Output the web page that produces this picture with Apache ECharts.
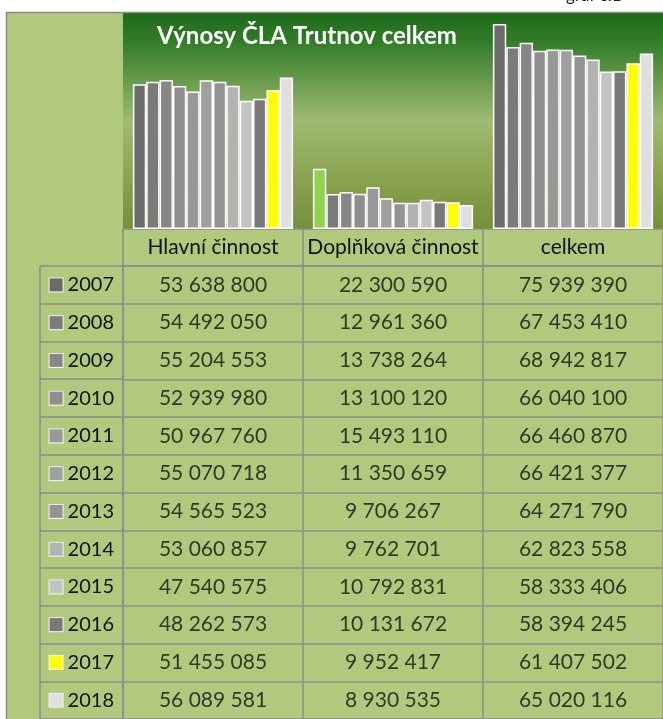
<!DOCTYPE html>
<html>
<head>
<meta charset="utf-8">
<script src="https://cdn.jsdelivr.net/npm/echarts@6/dist/echarts.min.js"></script>
<style>
  html, body { margin: 0; padding: 0; background: #fff; }
  #chart { width: 663px; height: 719px; }
</style>
</head>
<body>
<div id="chart"></div>
<script>
// data
const years = ['2007', '2008', '2009', '2010', '2011', '2012', '2013', '2014', '2015', '2016', '2017', '2018'];
const categories = ['Hlavní činnost', 'Doplňková činnost', 'celkem'];
const hlavni = [53638800, 54492050, 55204553, 52939980, 50967760, 55070718, 54565523, 53060857, 47540575, 48262573, 51455085, 56089581];
const doplnkova = [22300590, 12961360, 13738264, 13100120, 15493110, 11350659, 9706267, 9762701, 10792831, 10131672, 9952417, 8930535];
const celkem = [75939390, 67453410, 68942817, 66040100, 66460870, 66421377, 64271790, 62823558, 58333406, 58394245, 61407502, 65020116];

// one colour per year, the first "Doplňková" bar is highlighted green
const yearColors = ['#6b6b6b', '#7b7b7b', '#878787', '#8e8e8e', '#989898', '#a0a0a0', '#939393', '#b3b3b3', '#c3c3c3', '#787878', '#ffff00', '#dfdfdf'];
const highlightColor = '#92d050';

const lineColor = '#8c8c8c';
const panelGreen = '#b0c97c';
const font = 'Lato, "Open Sans", sans-serif';

const fmt = v => String(v).replace(/\B(?=(\d{3})+(?!\d))/g, ' ');

const chart = echarts.init(document.getElementById('chart'));

// bars, one series per year
const barSeries = years.map((y, i) => ({
  name: y,
  type: 'bar',
  xAxisIndex: 0,
  yAxisIndex: 0,
  barGap: '0%',
  barCategoryGap: '11%',
  itemStyle: { color: yearColors[i], borderColor: '#ffffff', borderWidth: 1.5 },
  data: [
    hlavni[i],
    i === 0 ? { value: doplnkova[i], itemStyle: { color: highlightColor } } : doplnkova[i],
    celkem[i]
  ]
}));

// table values
const tableData = [];
years.forEach((y, i) => {
  tableData.push([0, i, hlavni[i]]);
  tableData.push([1, i, doplnkova[i]]);
  tableData.push([2, i, celkem[i]]);
});

const rich = {
  yr: { fontSize: 20, fontFamily: font, color: '#111' },
  g: { width: 5 }
};
yearColors.forEach((c, i) => {
  rich['s' + i] = { width: 13, height: 13, backgroundColor: c, borderColor: '#f4f4f4', borderWidth: 1 };
});

const option = {
  animation: false,
  backgroundColor: '#ffffff',
  graphic: [
    { type: 'rect', z: -10, shape: { x: 6, y: 12, width: 660, height: 710 }, style: { fill: panelGreen } },
    { type: 'line', z: 10, shape: { x1: 6.5, y1: 12, x2: 6.5, y2: 719 }, style: { stroke: lineColor, lineWidth: 1.5 } },
    { type: 'line', z: 10, shape: { x1: 6, y1: 12.5, x2: 663, y2: 12.5 }, style: { stroke: lineColor, lineWidth: 1.5 } },
    {
      type: 'text', z: 20, x: 307, y: 36,
      style: { text: 'Výnosy ČLA Trutnov celkem', fill: '#ffffff', font: 'bold 24px ' + font, textAlign: 'center', textVerticalAlign: 'middle' }
    },
    {
      type: 'text', z: 20, x: 566, y: 4,
      style: { text: 'graf č.1', fill: '#222', font: '17px ' + font, textAlign: 'left', textVerticalAlign: 'bottom' }
    }
  ],
  grid: [
    {
      left: 123, top: 13, width: 546, height: 216,
      show: true, borderWidth: 0,
      backgroundColor: new echarts.graphic.LinearGradient(0, 0, 0, 1, [
        { offset: 0, color: '#1d6b1a' },
        { offset: 0.12, color: '#2f7a27' },
        { offset: 0.5, color: '#9fbb70' },
        { offset: 0.8, color: '#86a04c' },
        { offset: 1, color: '#74903a' }
      ])
    },
    { left: 123, top: 266, width: 546, height: 12 * 38.3 }
  ],
  xAxis: [
    {
      gridIndex: 0,
      type: 'category',
      data: categories,
      position: 'bottom',
      axisLine: { lineStyle: { color: lineColor, width: 1.5 } },
      axisTick: { show: true, alignWithLabel: false, length: 37, lineStyle: { color: lineColor, width: 1.5 } },
      axisLabel: { margin: 0, lineHeight: 37, height: 37, fontSize: 21, fontFamily: font, color: '#111', interval: 0 }
    },
    {
      gridIndex: 1,
      type: 'category',
      data: categories,
      position: 'top',
      axisLine: { lineStyle: { color: lineColor, width: 1.5 } },
      axisTick: { show: false },
      axisLabel: { show: false },
      splitLine: { show: true, interval: 0, lineStyle: { color: lineColor, width: 1.5 } }
    }
  ],
  yAxis: [
    { gridIndex: 0, type: 'value', min: 0, max: 80000000, show: false },
    {
      gridIndex: 1,
      type: 'category',
      data: years,
      inverse: true,
      axisLine: { lineStyle: { color: lineColor, width: 1.5 } },
      axisTick: { show: true, alignWithLabel: false, interval: 0, length: 83, lineStyle: { color: lineColor, width: 1.5 } },
      splitLine: { show: true, interval: 0, lineStyle: { color: lineColor, width: 1.5 } },
      axisLabel: {
        margin: 9,
        interval: 0,
        formatter: (v, i) => '{s' + i + '|}{g|}{yr|' + v + '}',
        rich: rich
      }
    },
    {
      gridIndex: 1,
      type: 'category',
      data: years,
      inverse: true,
      position: 'left',
      offset: 83,
      axisLine: { show: true, lineStyle: { color: lineColor, width: 1.5 } },
      axisTick: { show: false },
      axisLabel: { show: false },
      splitLine: { show: false }
    }
  ],
  series: barSeries.concat([
    {
      type: 'scatter',
      xAxisIndex: 1,
      yAxisIndex: 1,
      symbolSize: 1,
      itemStyle: { color: 'rgba(0,0,0,0)' },
      label: {
        show: true,
        position: 'inside',
        fontSize: 21,
        fontFamily: font,
        color: '#111',
        formatter: p => fmt(p.value[2])
      },
      data: tableData
    }
  ])
};

chart.setOption(option);
</script>
</body>
</html>
